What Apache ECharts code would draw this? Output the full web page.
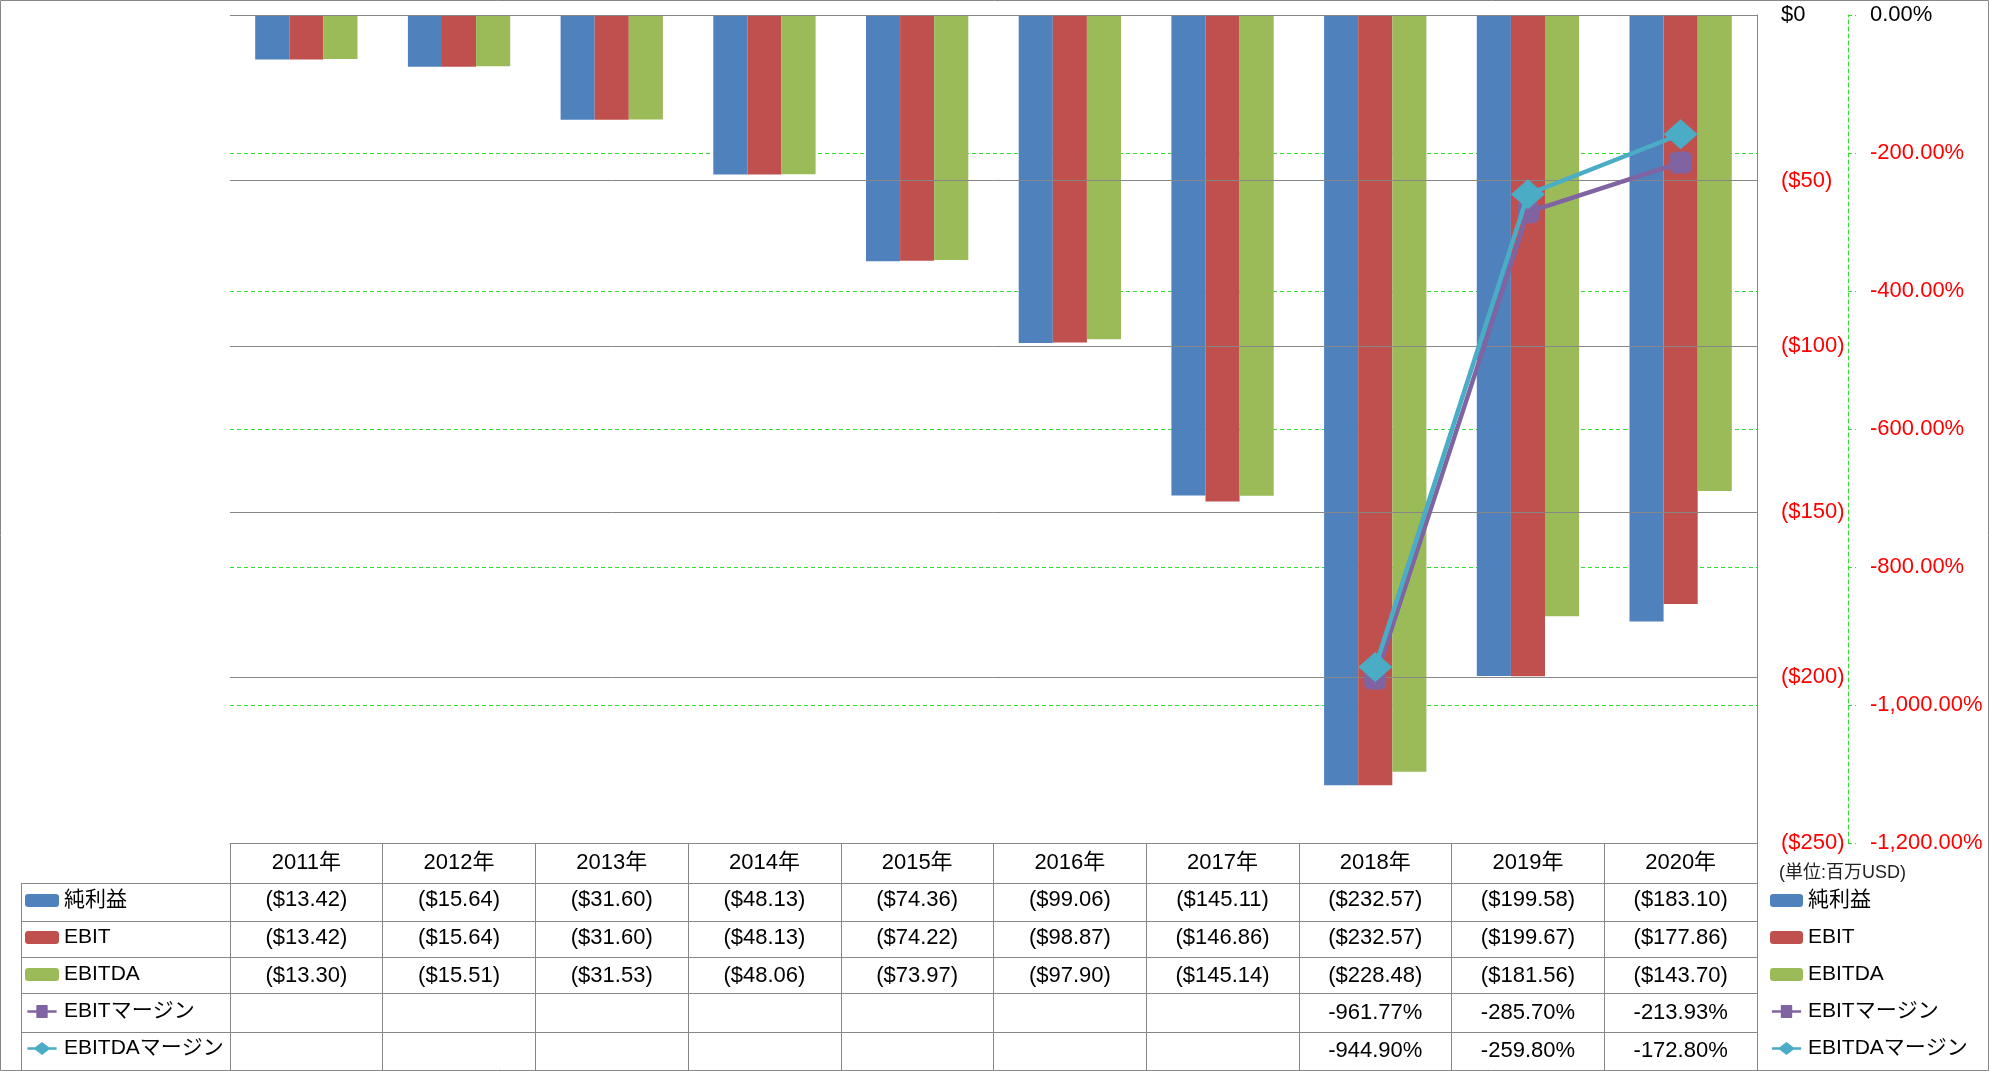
<!DOCTYPE html>
<html>
<head>
<meta charset="utf-8">
<script src="https://cdn.jsdelivr.net/npm/echarts@6/dist/echarts.min.js"></script>
<style>
html,body{margin:0;padding:0;background:#fff;}
#chart{width:1989px;height:1071px;}
</style>
</head>
<body>
<div id="chart"></div>
<script>
const years = ['2011年','2012年','2013年','2014年','2015年','2016年','2017年','2018年','2019年','2020年'];
const netIncome = [-13.42,-15.64,-31.60,-48.13,-74.36,-99.06,-145.11,-232.57,-199.58,-183.10];
const ebit = [-13.42,-15.64,-31.60,-48.13,-74.22,-98.87,-146.86,-232.57,-199.67,-177.86];
const ebitda = [-13.30,-15.51,-31.53,-48.06,-73.97,-97.90,-145.14,-228.48,-181.56,-143.70];
const ebitMargin = [null,null,null,null,null,null,null,-961.77,-285.70,-213.93];
const ebitdaMargin = [null,null,null,null,null,null,null,-944.90,-259.80,-172.80];
const seriesNames = ['純利益','EBIT','EBITDA','EBITマージン','EBITDAマージン'];
const unitNote = '(単位:百万USD)';

const FONT = "'Liberation Sans','Noto Sans CJK JP',sans-serif";
const GREY = '#878787';
const GREEN = '#33dd33';

function money(v){ if(v==null) return ''; return v<0 ? '($'+Math.abs(v).toFixed(2)+')' : '$'+v.toFixed(2); }
function pct(v){ if(v==null) return ''; const s=Math.abs(v).toFixed(2).split('.'); s[0]=s[0].replace(/\B(?=(\d{3})+(?!\d))/g,','); return (v<0?'-':'')+s.join('.')+'%'; }
function axisMoney(v){ return v<0 ? '($'+Math.abs(v)+')' : '$'+v; }

const chart = echarts.init(document.getElementById('chart'));

const tableLines = [883, 921, 957, 993, 1032].map(y => ({
  type:'line', shape:{x1:21,y1:y+0.5,x2:1757,y2:y+0.5}, style:{stroke:GREY,lineWidth:1}, silent:true
}));

const squareLineIcon = 'path://M0,6.5L11,6.5L11,1Q11,0 12,0L24,0Q25,0 25,1L25,6.5L36,6.5L36,9.5L25,9.5L25,15Q25,16 24,16L12,16Q11,16 11,15L11,9.5L0,9.5Z';
const diamondLineIcon = 'path://M0,6.5L9.5,6.5L18,0L26.5,6.5L36,6.5L36,9.5L26.5,9.5L18,16L9.5,9.5L0,9.5Z';

function legendAt(left, w){
  return {
    orient:'vertical', left:left, top:882, height:200, padding:0, itemGap:0, itemWidth:w, itemHeight:13, selectedMode:false,
    textStyle:{fontFamily:FONT,fontSize:21,color:'#000',lineHeight:37},
    data: [
      {name:seriesNames[0]},
      {name:seriesNames[1]},
      {name:seriesNames[2]},
      {name:seriesNames[3], icon:squareLineIcon, itemStyle:{color:'#8064a2'}},
      {name:seriesNames[4], icon:diamondLineIcon, itemStyle:{color:'#4bacc6'}}
    ]
  };
}

chart.setOption({
  animation:false,
  textStyle:{fontFamily:FONT},
  title:{text:unitNote, left:1774, top:859, textStyle:{fontFamily:FONT,fontSize:18,fontWeight:'normal',color:'#222'}},
  legend:[ legendAt(25, 34), legendAt(1770, 33) ],
  grid:{left:230, right:232, top:15, bottom:228, containLabel:false},
  xAxis:{
    type:'category', data:years, position:'bottom',
    axisLine:{show:true, onZero:false, lineStyle:{color:GREY,width:1}},
    axisTick:{show:true, length:228, lineStyle:{color:GREY,width:1}},
    axisLabel:{
      interval:0, margin:1, color:'#000', fontFamily:FONT, fontSize:22, lineHeight:37.6,
      formatter:function(val, i){
        return [years[i], money(netIncome[i]), money(ebit[i]), money(ebitda[i]), pct(ebitMargin[i]), pct(ebitdaMargin[i])].join('\n');
      }
    },
    splitLine:{show:false}
  },
  yAxis:[
    {
      type:'value', position:'right', min:-250, max:0, interval:50,
      axisLine:{show:true, lineStyle:{color:GREY,width:1}},
      axisTick:{show:false},
      axisLabel:{margin:24, fontSize:22, fontFamily:FONT, formatter:axisMoney,
        color:function(v){ return Number(v)<0 ? '#ff0000' : '#000000'; }},
      splitLine:{show:true, lineStyle:{color:GREY,width:1}},
      z:3
    },
    {
      type:'value', position:'right', offset:91, min:-1200, max:0, interval:200,
      axisLine:{show:true, lineStyle:{color:GREEN,width:1,type:[4,3]}},
      axisTick:{show:true, length:8, lineStyle:{color:GREEN,width:1,type:[4,3]}},
      axisLabel:{margin:22, fontSize:22, fontFamily:FONT, formatter:pct,
        color:function(v){ return Number(v)<0 ? '#ff0000' : '#000000'; }},
      splitLine:{show:true, lineStyle:{color:GREEN,width:1,type:[4,3]}},
      z:1
    }
  ],
  series:[
    {name:seriesNames[0], type:'bar', data:netIncome, barGap:'0%', barCategoryGap:'33%', itemStyle:{color:'#4f81bd'}},
    {name:seriesNames[1], type:'bar', data:ebit, barGap:'0%', barCategoryGap:'33%', itemStyle:{color:'#c0504d'}},
    {name:seriesNames[2], type:'bar', data:ebitda, barGap:'0%', barCategoryGap:'33%', itemStyle:{color:'#9bbb59'}},
    {name:seriesNames[3], type:'line', yAxisIndex:1, data:ebitMargin, connectNulls:false,
      symbol:'roundRect', symbolSize:22, lineStyle:{color:'#8064a2',width:4.5}, itemStyle:{color:'#8064a2'}, z:5},
    {name:seriesNames[4], type:'line', yAxisIndex:1, data:ebitdaMargin, connectNulls:false,
      symbol:'diamond', symbolSize:[34,30], lineStyle:{color:'#4bacc6',width:4.5}, itemStyle:{color:'#4bacc6'}, z:6}
  ],
  graphic:[
    {type:'rect', shape:{x:0.5,y:0.5,width:1988,height:1070}, style:{fill:'none',stroke:GREY,lineWidth:1}, silent:true, z:-1},
    {type:'line', shape:{x1:21.5,y1:883,x2:21.5,y2:1070}, style:{stroke:GREY,lineWidth:1}, silent:true}
  ].concat(tableLines)
});
</script>
</body>
</html>
